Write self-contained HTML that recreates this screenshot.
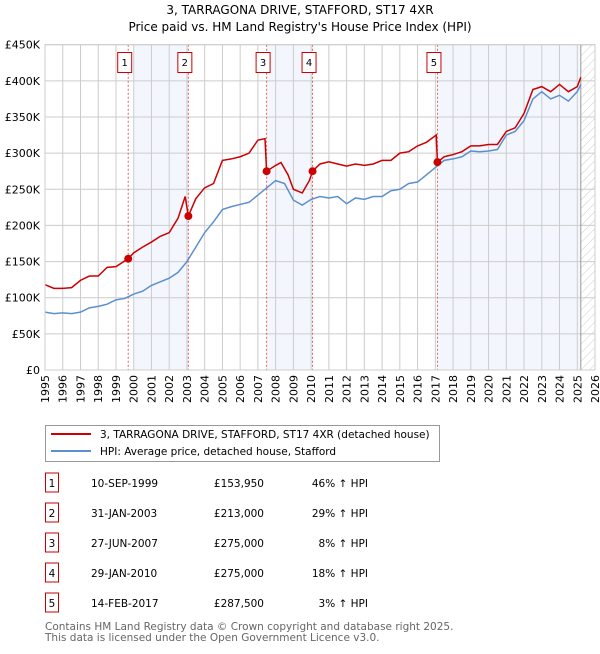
<!DOCTYPE html>
<html><head><meta charset="utf-8"><style>
body{margin:0;background:#fff;font-family:"DejaVu Sans","Liberation Sans",sans-serif}
svg text{font-family:"DejaVu Sans","Liberation Sans",sans-serif}
</style></head><body>
<svg id="chart" width="600" height="650" xmlns="http://www.w3.org/2000/svg">
<defs><pattern id="hatch" width="6" height="6" patternUnits="userSpaceOnUse" patternTransform="rotate(45)"><line x1="0" y1="0" x2="0" y2="6" stroke="#ccc" stroke-width="1"/></pattern></defs>
<text x="300" y="14" text-anchor="middle" font-size="12">3, TARRAGONA DRIVE, STAFFORD, ST17 4XR</text>
<text x="300" y="31" text-anchor="middle" font-size="12">Price paid vs. HM Land Registry's House Price Index (HPI)</text>
<g id="bg"></g><g id="grid"></g><g id="marks"></g><g id="axes"></g>
<g>
<rect x="45.5" y="425.5" width="394" height="36" fill="#fff" stroke="#999"/>
<line x1="51" y1="434" x2="91" y2="434" stroke="#cc0000" stroke-width="2"/>
<text x="100" y="438" font-size="10.5">3, TARRAGONA DRIVE, STAFFORD, ST17 4XR (detached house)</text>
<line x1="51" y1="451" x2="91" y2="451" stroke="#5b8fd0" stroke-width="2"/>
<text x="100" y="455" font-size="10.5">HPI: Average price, detached house, Stafford</text>
</g>
<g id="table"></g>
<text x="45" y="630" font-size="10.5" fill="#666">Contains HM Land Registry data © Crown copyright and database right 2025.</text>
<text x="45" y="641" font-size="10.5" fill="#666">This data is licensed under the Open Government Licence v3.0.</text>
</svg>
<script>
const hpiYears=[1995,1995.5,1996,1996.5,1997,1997.5,1998,1998.5,1999,1999.5,2000,2000.5,2001,2001.5,2002,2002.5,2003,2003.5,2004,2004.5,2005,2005.5,2006,2006.5,2007,2007.5,2008,2008.5,2009,2009.5,2010,2010.5,2011,2011.5,2012,2012.5,2013,2013.5,2014,2014.5,2015,2015.5,2016,2016.5,2017,2017.5,2018,2018.5,2019,2019.5,2020,2020.5,2021,2021.5,2022,2022.5,2023,2023.5,2024,2024.5,2025,2025.2];
const hpiValues=[80,78,79,78,80,86,88,91,97,99,105,109,117,122,127,135,150,170,190,205,222,226,229,232,242,252,262,258,235,228,236,240,238,240,230,238,236,240,240,248,250,258,260,270,280,290,292,295,303,302,303,305,325,330,345,375,385,375,380,372,385,395];
const priceYears=[1995,1995.5,1996,1996.5,1997,1997.5,1998,1998.5,1999,1999.69,2000,2000.5,2001,2001.5,2002,2002.5,2002.9,2003.08,2003.5,2004,2004.5,2005,2005.5,2006,2006.5,2007,2007.4,2007.49,2008,2008.3,2008.7,2009,2009.5,2009.9,2010.08,2010.5,2011,2011.5,2012,2012.5,2013,2013.5,2014,2014.5,2015,2015.5,2016,2016.5,2017.05,2017.12,2017.5,2018,2018.5,2019,2019.5,2020,2020.5,2021,2021.5,2022,2022.5,2023,2023.5,2024,2024.5,2025,2025.2];
const priceValues=[118,113,113,114,124,130,130,142,143,154,162,170,177,185,190,210,240,213,237,252,258,290,292,295,300,318,320,275,283,287,270,250,245,262,275,285,288,285,282,285,283,285,290,290,300,302,310,315,325,287.5,295,298,302,310,310,312,312,330,335,355,388,392,385,395,385,392,405];
const saleLabels=["1","2","3","4","5"];
const saleYears=[1999.69,2003.08,2007.49,2010.08,2017.12];
const salePrices=[153.95,213,275,275,287.5];
const saleDates=["10-SEP-1999","31-JAN-2003","27-JUN-2007","29-JAN-2010","14-FEB-2017"];
const salePriceText=["£153,950","£213,000","£275,000","£275,000","£287,500"];
const saleHpiText=["46% ↑ HPI","29% ↑ HPI","8% ↑ HPI","18% ↑ HPI","3% ↑ HPI"];
const yTicks=[0,50,100,150,200,250,300,350,400,450];
const yTickLabels=["£0","£50K","£100K","£150K","£200K","£250K","£300K","£350K","£400K","£450K"];
const xTicks=[];for(let y=1995;y<=2026;y++)xTicks.push(y);
const dataEnd=2025.2;
const NS="http://www.w3.org/2000/svg";
const X0=45,X1=595,Y0=370,Y1=44.7;
const xs=v=>X0+(v-1995)/(2026-1995)*(X1-X0);
const ys=v=>Y0-v/450*(Y0-Y1);
function mk(tag,attrs,parent){const e=document.createElementNS(NS,tag);for(const k in attrs)e.setAttribute(k,attrs[k]);parent.appendChild(e);return e;}
const bg=document.getElementById('bg'),grid=document.getElementById('grid'),marks=document.getElementById('marks'),axes=document.getElementById('axes'),table=document.getElementById('table');
const shadePairs=[[0,1],[2,3],[4,-1]];
shadePairs.forEach((p,i)=>{const a=xs(saleYears[p[0]])+(i==0?5:0);const b=p[1]<0?xs(dataEnd):xs(saleYears[p[1]]);
const r=mk('rect',{x:a,y:Y1,width:b-a,height:Y0-Y1,fill:'#eef3fc',opacity:0.7},bg);

});
const h=mk('rect',{x:xs(dataEnd),y:Y1,width:X1-xs(dataEnd),height:Y0-Y1,fill:'url(#hatch)'},bg);


xTicks.forEach(t=>{const l=mk('line',{x1:xs(t),x2:xs(t),y1:Y1,y2:Y0,stroke:'#ccc','stroke-width':1},grid);


const tx=mk('text',{x:0,y:0,'font-size':11,'text-anchor':'end',transform:`translate(${xs(t)+4},${Y0+5}) rotate(-90)`},axes);tx.textContent=t;

});
yTicks.forEach((t,i)=>{const l=mk('line',{x1:X0,x2:X1,y1:ys(t),y2:ys(t),stroke:'#ccc','stroke-width':1},grid);


const tx=mk('text',{x:40,y:ys(t)+4,'font-size':11,'text-anchor':'end'},axes);tx.textContent=yTickLabels[i];

});
const border=mk('rect',{x:X0,y:Y1,width:X1-X0,height:Y0-Y1,fill:'none',stroke:'#ccc'},axes);


const endLine=mk('line',{x1:xs(dataEnd),x2:xs(dataEnd),y1:Y1,y2:Y0,stroke:'#999'},grid);


saleYears.forEach((s,i)=>{const l=mk('line',{x1:xs(s),x2:xs(s),y1:Y1,y2:Y0,stroke:'#e06060','stroke-dasharray':'2,2','stroke-width':1},grid);


const bx=mk('rect',{x:xs(s)-10.5,y:52.5,width:14,height:20,fill:'#fff',stroke:'#cc0000'},axes);


const t=mk('text',{x:xs(s)-3.5,y:66,'font-size':10,'text-anchor':'middle'},axes);t.textContent=saleLabels[i];

});
const hp=mk('polyline',{points:hpiYears.map((y,i)=>xs(y)+','+ys(hpiValues[i])).join(' '),fill:'none',stroke:'#5b8fd0','stroke-width':1.5},marks);


const pp=mk('polyline',{points:priceYears.map((y,i)=>xs(y)+','+ys(priceValues[i])).join(' '),fill:'none',stroke:'#cc0000','stroke-width':1.5},marks);


saleYears.forEach((s,i)=>{const c=mk('circle',{cx:xs(s),cy:ys(salePrices[i]),r:4,fill:'#cc0000'},marks);

});
const rowY=[483,513,543,573,603];
saleLabels.forEach((lab,i)=>{const y=rowY[i];
const b=mk('rect',{x:45.5,y:y-10,width:13,height:19,fill:'#fff',stroke:'#cc0000'},table);


const cells=[[52,lab,'middle'],[91,saleDates[i],'start'],[264,salePriceText[i],'end'],[368,saleHpiText[i],'end']];
cells.forEach(c=>{const t=mk('text',{x:c[0],y:y+4,'font-size':10.5,'text-anchor':c[2]},table);t.textContent=c[1];

});});
</script>
</body></html>
